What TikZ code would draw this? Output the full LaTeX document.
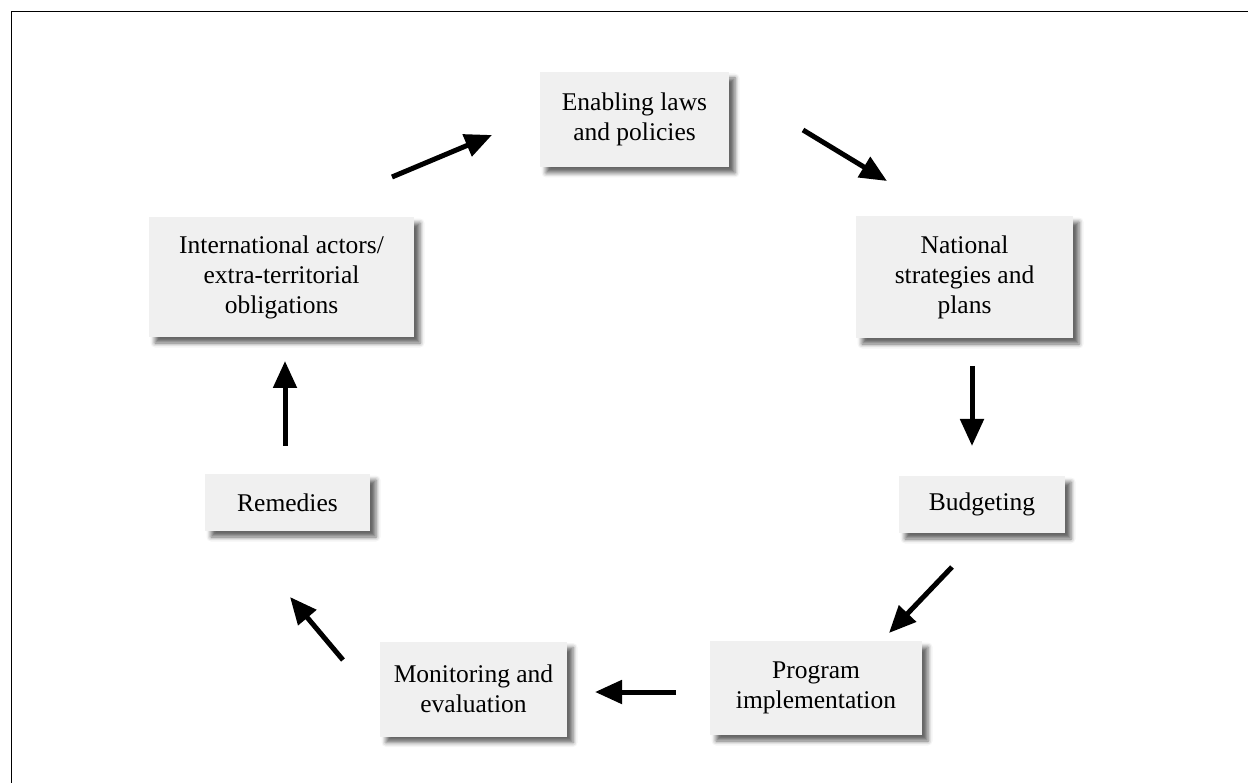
\documentclass[tikz,border=0pt]{standalone}
\usepackage{fontspec}
\setmainfont{Liberation Serif}
\usetikzlibrary{arrows.meta,shadows.blur}
\definecolor{boxfill}{HTML}{F0F0F0}
\tikzset{
  stagebox/.style={fill=boxfill, draw=none, align=center, inner sep=0pt,
    font=\fontsize{25.5}{30}\selectfont,
    blur shadow={shadow xshift=6pt, shadow yshift=-6pt, shadow blur radius=4.5pt, shadow opacity=60}},
  flow/.style={line width=5pt, -{Triangle[length=27pt,width=23pt]}}
}
\begin{document}
\begin{tikzpicture}[x=1pt, y=-1pt]
\useasboundingbox (0,0) rectangle (1248,783);
% outer frame (top and left edges)
\draw[line width=1.6pt] (11.5,783) -- (11.5,11.5) -- (1248,11.5);

% stages of the cycle
\node[stagebox, minimum width=189pt, minimum height=95pt] (enab) at (634.5,119.5) {Enabling laws\\and policies};
\node[stagebox, minimum width=217pt, minimum height=122pt] (nat) at (964.5,277) {National\\strategies and\\plans};
\node[stagebox, minimum width=166pt, minimum height=57pt] (bud) at (982,504.5) {Budgeting};
\node[stagebox, minimum width=212pt, minimum height=94pt] (prog) at (816,688) {Program\\implementation};
\node[stagebox, minimum width=187pt, minimum height=95pt] (mon) at (473.5,689) {Monitoring and\\evaluation};
\node[stagebox, minimum width=165pt, minimum height=57pt] (rem) at (287.5,502.5) {Remedies};
\node[stagebox, minimum width=265pt, minimum height=120pt] (intl) at (281.5,277) {International actors/\\extra-territorial\\obligations};

% arrow end points between the stages
\coordinate (a1s) at (392,177);  \coordinate (a1e) at (492,135);
\coordinate (a2s) at (803,130);  \coordinate (a2e) at (887,181);
\coordinate (a3s) at (972,366);  \coordinate (a3e) at (972,446);
\coordinate (a4s) at (952,567);  \coordinate (a4e) at (889,633);
\coordinate (a5s) at (676,692);  \coordinate (a5e) at (595,692);
\coordinate (a6s) at (343,660);  \coordinate (a6e) at (290,597);
\coordinate (a7s) at (285,446);  \coordinate (a7e) at (285,361);

\draw[flow] (a1s) -- (a1e);
\draw[flow] (a2s) -- (a2e);
\draw[flow] (a3s) -- (a3e);
\draw[flow] (a4s) -- (a4e);
\draw[flow] (a5s) -- (a5e);
\draw[flow] (a6s) -- (a6e);
\draw[flow] (a7s) -- (a7e);
\end{tikzpicture}
\end{document}
